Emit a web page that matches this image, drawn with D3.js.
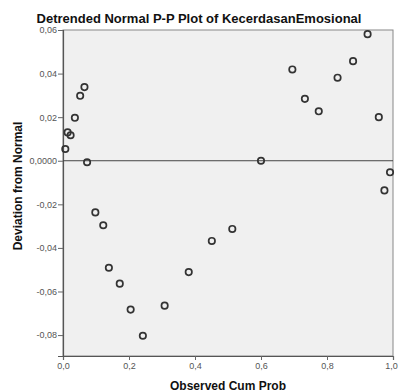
<!DOCTYPE html>
<html>
<head>
<meta charset="utf-8">
<script src="https://cdn.jsdelivr.net/npm/d3@7"></script>
<style>
  html, body { margin: 0; padding: 0; background: #fff; }
  svg { display: block; font-family: "Liberation Sans", Arial, sans-serif; }
  .tick text { fill: #555; font-size: 9px; }
</style>
</head>
<body>
<div id="chart"></div>
<script>
// Observed cumulative probability vs. deviation from normal
const observedCumProb = [
  0.007, 0.014, 0.023, 0.036, 0.052, 0.065, 0.073, 0.098, 0.122, 0.139,
  0.172, 0.205, 0.242, 0.308, 0.381, 0.451, 0.513, 0.600, 0.695, 0.733,
  0.775, 0.832, 0.879, 0.923, 0.957, 0.974, 0.991
];
const deviation = [
  0.0054, 0.0130, 0.0117, 0.0197, 0.0298, 0.0338, -0.0007, -0.0237, -0.0296, -0.0491,
  -0.0564, -0.0683, -0.0803, -0.0665, -0.0511, -0.0368, -0.0313, 0.0000, 0.0419, 0.0284,
  0.0227, 0.0381, 0.0457, 0.0581, 0.0200, -0.0136, -0.0053
];
const xTicks = [0, 0.2, 0.4, 0.6, 0.8, 1.0];
const xTickLabels = ["0,0", "0,2", "0,4", "0,6", "0,8", "1,0"];
const yTicks = [0.06, 0.04, 0.02, 0, -0.02, -0.04, -0.06, -0.08];
const yTickLabels = ["0,06", "0,04", "0,02", "0,0000", "-0,02", "-0,04", "-0,06", "-0,08"];

const W = 398, H = 392;
const m = { top: 30, right: 5, bottom: 36, left: 63 };

const svg = d3.select("#chart").append("svg").attr("width", W).attr("height", H);

const x = d3.scaleLinear().domain([0, 1]).range([m.left, W - m.right]);
const y = d3.scaleLinear().domain([-0.0896, 0.06]).range([H - m.bottom, m.top]);

// plot background + frame
svg.append("rect")
  .attr("x", x(0)).attr("y", y(0.06))
  .attr("width", x(1) - x(0)).attr("height", y(-0.0896) - y(0.06))
  .attr("fill", "#f0f0f0").attr("stroke", "#888").attr("stroke-width", 1);

// axes
const xAxis = svg.append("g")
  .attr("transform", `translate(0,${y(-0.0896)})`)
  .call(d3.axisBottom(x).tickValues(xTicks).tickSize(4).tickPadding(3)
    .tickFormat((d, i) => xTickLabels[i]));
const yAxis = svg.append("g")
  .attr("transform", `translate(${x(0)},0)`)
  .call(d3.axisLeft(y).tickValues(yTicks).tickSize(5).tickPadding(1)
    .tickFormat((d, i) => yTickLabels[i]));
[xAxis, yAxis].forEach((g) => {
  g.select(".domain").attr("stroke", "#555").attr("stroke-width", 1.2);
  g.selectAll(".tick line").attr("stroke", "#666");
});
// last x label sits on the window edge; nudge it in a little
xAxis.selectAll(".tick text").filter((d) => d === 1).attr("dx", -2);

// zero reference line
svg.append("line")
  .attr("x1", x(0)).attr("x2", x(1))
  .attr("y1", y(0)).attr("y2", y(0))
  .attr("stroke", "#444").attr("stroke-width", 1);

// points
svg.append("g").selectAll("circle")
  .data(observedCumProb.map((p, i) => ({ p, d: deviation[i] })))
  .enter().append("circle")
    .attr("cx", (d) => x(d.p))
    .attr("cy", (d) => y(d.d))
    .attr("r", 3.2)
    .attr("fill", "none")
    .attr("stroke", "#333")
    .attr("stroke-width", 1.7);

// titles
svg.append("text")
  .attr("x", 199).attr("y", 23)
  .attr("text-anchor", "middle")
  .attr("font-size", 13).attr("font-weight", "bold").attr("fill", "#111")
  .text("Detrended Normal P-P Plot of KecerdasanEmosional");
svg.append("text")
  .attr("x", (x(0) + x(1)) / 2).attr("y", 390)
  .attr("text-anchor", "middle")
  .attr("font-size", 12).attr("font-weight", "bold").attr("fill", "#111")
  .text("Observed Cum Prob");
svg.append("text")
  .attr("transform", "translate(22,186) rotate(-90)")
  .attr("text-anchor", "middle")
  .attr("font-size", 12).attr("font-weight", "bold").attr("fill", "#111")
  .text("Deviation from Normal");
</script>
</body>
</html>
